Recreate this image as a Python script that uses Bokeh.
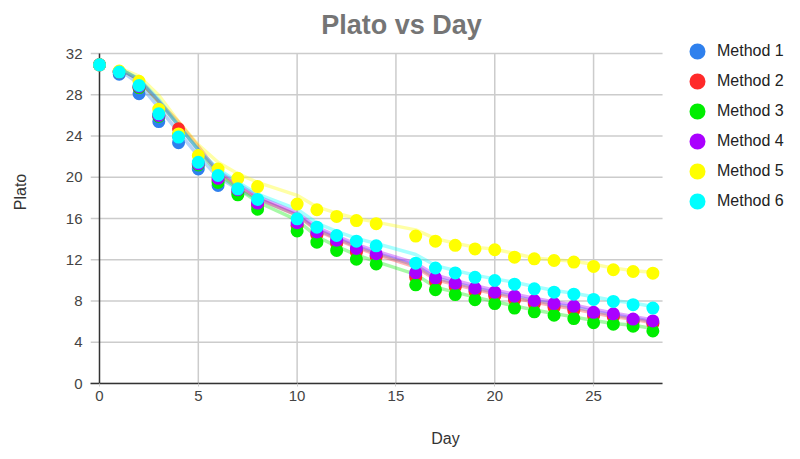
from bokeh.plotting import figure
from bokeh.models import Range1d, Legend, LegendItem, Label, FixedTicker
from bokeh.embed import file_html
from bokeh.resources import INLINE

days = [0, 1, 2, 3, 4, 5, 6, 7, 8, 10, 11, 12, 13, 14, 16, 17, 18, 19, 20, 21, 22, 23, 24, 25, 26, 27, 28]
method1 = [30.9, 30.0, 28.1, 25.4, 23.35, 20.8, 19.2, 18.5, 17.3, 15.4, 14.5, 13.7, 12.9, 12.4, 10.5, 10.0, 9.5, 9.05, 8.65, 8.25, 7.85, 7.55, 7.3, 6.7, 6.6, 6.1, 5.9]
method2 = [30.9, 30.2, 28.7, 26.0, 24.7, 21.3, 19.7, 18.6, 17.3, 15.3, 14.4, 13.6, 12.75, 12.3, 10.3, 9.85, 9.35, 8.9, 8.48, 8.1, 7.7, 7.38, 7.1, 6.55, 6.44, 6.0, 5.8]
method3 = [30.9, 30.2, 28.7, 25.9, 24.1, 21.2, 19.5, 18.3, 16.9, 14.8, 13.7, 12.9, 12.05, 11.6, 9.57, 9.1, 8.62, 8.13, 7.75, 7.31, 6.95, 6.62, 6.3, 5.9, 5.75, 5.55, 5.1]
method4 = [30.9, 30.2, 28.8, 26.0, 24.0, 21.3, 19.9, 18.8, 17.5, 15.6, 14.7, 13.9, 13.1, 12.58, 10.75, 10.25, 9.73, 9.24, 8.86, 8.47, 8.05, 7.75, 7.5, 6.9, 6.76, 6.25, 6.07]
method5 = [30.9, 30.3, 29.3, 26.6, 24.2, 22.1, 20.8, 19.9, 19.1, 17.4, 16.85, 16.2, 15.8, 15.5, 14.3, 13.8, 13.4, 13.05, 12.97, 12.25, 12.09, 11.93, 11.77, 11.35, 11.03, 10.86, 10.7]
method6 = [30.9, 30.2, 28.9, 26.15, 23.9, 21.45, 20.17, 18.88, 17.85, 15.97, 15.16, 14.35, 13.8, 13.35, 11.67, 11.2, 10.72, 10.3, 9.99, 9.63, 9.18, 8.86, 8.66, 8.15, 7.96, 7.64, 7.31]

names = ["Method 1", "Method 2", "Method 3", "Method 4", "Method 5", "Method 6"]
colors = ["#2f80ed", "#ff2a2a", "#00ee00", "#aa00ff", "#ffff00", "#00ffff"]
series = [method1, method2, method3, method4, method5, method6]

y_ticks = [0, 4, 8, 12, 16, 20, 24, 28, 32]
x_ticks = [0, 5, 10, 15, 20, 25]

# plot-area extent in data units
X_MIN, X_MAX = -0.455, 28.49
Y_MIN, Y_MAX = 0, 32

FONT = "Liberation Sans"

# the frame spans the whole upper-right region so that title and legend are inside it
p = figure(width=800, height=459, output_backend="svg", toolbar_location=None,
           x_range=Range1d(X_MIN, 35.47), y_range=Range1d(0, 37.14),
           min_border_left=90, min_border_right=0, min_border_top=0, min_border_bottom=76)
p.outline_line_color = None
p.grid.visible = False

# grid lines limited to the plot area
p.segment(x0=X_MIN, x1=X_MAX, y0=y_ticks, y1=y_ticks, line_color="#cccccc", line_width=1.5)
p.segment(x0=x_ticks[1:], x1=x_ticks[1:], y0=Y_MIN, y1=Y_MAX, line_color="#cccccc", line_width=1.5)
# y axis line at day 0
p.segment(x0=[0], x1=[0], y0=[Y_MIN], y1=[Y_MAX], line_color="#333333", line_width=1.5)

# axes
p.yaxis.ticker = FixedTicker(ticks=y_ticks)
p.yaxis.bounds = (Y_MIN, Y_MAX)
p.yaxis.axis_line_color = None
p.yaxis.major_tick_line_color = None
p.yaxis.major_tick_out = 0
p.yaxis.major_tick_in = 0
p.yaxis.minor_tick_line_color = None
p.yaxis.minor_tick_out = 0
p.yaxis.major_label_standoff = 8
p.yaxis.axis_label = "Plato"
p.yaxis.axis_label_standoff = 34
p.xaxis.ticker = FixedTicker(ticks=x_ticks)
p.xaxis.bounds = (X_MIN, X_MAX)
p.xaxis.axis_line_color = "#333333"
p.xaxis.axis_line_width = 1.5
p.xaxis.major_tick_out = 3
p.xaxis.major_tick_in = 0
p.xaxis.major_tick_line_color = "#cccccc"
p.xaxis.minor_tick_line_color = None
p.xaxis.minor_tick_out = 0
p.xaxis.major_label_standoff = 4
p.xaxis.axis_label = "Day"
p.xaxis.axis_label_standoff = 26
for ax in (p.xaxis, p.yaxis):
    ax.major_label_text_font = FONT
    ax.major_label_text_font_size = "15px"
    ax.major_label_text_color = "#444444"
    ax.axis_label_text_font = FONT
    ax.axis_label_text_font_size = "16px"
    ax.axis_label_text_font_style = "normal"
    ax.axis_label_text_color = "#333333"

# moving-average trend lines (period 2)
for ys, c in zip(series, colors):
    mx = days[1:]
    my = [(ys[i - 1] + ys[i]) / 2 for i in range(1, len(ys))]
    p.line(mx, my, line_color=c, line_width=3.5, line_alpha=0.35)

items = []
for ys, c, n in zip(series, colors, names):
    r = p.scatter(days, ys, size=9, fill_color=c, line_color=c, line_width=4)
    items.append(LegendItem(label=n, renderers=[r]))

legend = Legend(items=items, location=(587, 167), glyph_width=40, glyph_height=30,
                label_height=30, spacing=0, padding=0, margin=0, label_standoff=0,
                border_line_color=None, background_fill_alpha=0,
                label_text_font=FONT, label_text_font_size="16px", label_text_color="#222222")
p.add_layout(legend, "center")

title = Label(x=311, y=359, x_units="screen", y_units="screen", text="Plato vs Day",
              text_align="center", text_baseline="alphabetic", text_font=FONT,
              text_font_size="27px", text_font_style="bold", text_color="#757575")
p.add_layout(title)

open("out.html", "w").write(file_html(p, INLINE))
